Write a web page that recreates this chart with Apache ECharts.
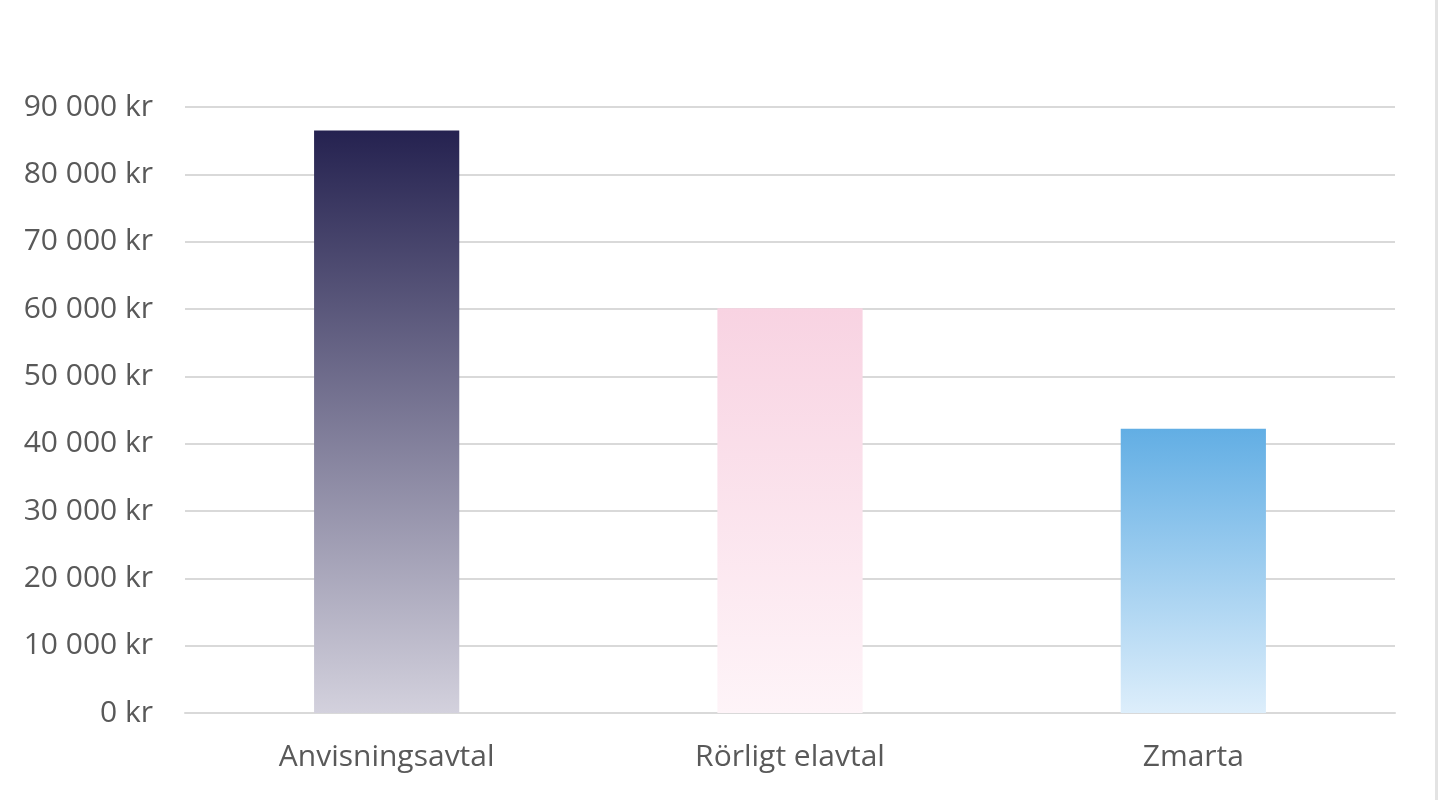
<!DOCTYPE html>
<html>
<head>
<meta charset="utf-8">
<script src="https://cdn.jsdelivr.net/npm/echarts@6/dist/echarts.min.js"></script>
<style>
    html, body { margin: 0; padding: 0; background: #fff; }
    #chart { width: 1439px; height: 800px; }
</style>
</head>
<body>
<div id="chart"></div>
<script>
var categories = ['Anvisningsavtal', 'Rörligt elavtal', 'Zmarta'];
var values = [86500, 60100, 42200];
var topColors = ['#252250', '#f8d3e2', '#62aee4'];
var bottomColors = ['#d3d1dd', '#fef4f8', '#ddeefb'];

var chart = echarts.init(document.getElementById('chart'));

var barData = values.map(function (v, i) {
    return {
        value: v,
        itemStyle: {
            color: new echarts.graphic.LinearGradient(0, 0, 0, 1, [
                { offset: 0, color: topColors[i] },
                { offset: 1, color: bottomColors[i] }
            ])
        }
    };
});

var option = {
    animation: false,
    backgroundColor: '#fff',
    grid: { left: 185, right: 44, top: 107, bottom: 87 },
    xAxis: {
        type: 'category',
        data: categories,
        axisLine: { lineStyle: { color: '#d9d9d9', width: 2 } },
        axisTick: { show: false },
        axisLabel: {
            color: '#595959',
            fontFamily: 'Open Sans',
            fontSize: 30,
            margin: 29
        }
    },
    yAxis: {
        type: 'value',
        min: 0,
        max: 90000,
        interval: 10000,
        axisLine: { show: false },
        axisTick: { show: false },
        splitLine: { lineStyle: { color: '#d9d9d9', width: 2 } },
        axisLabel: {
            color: '#595959',
            fontFamily: 'Open Sans',
            fontSize: 30,
            margin: 32,
            formatter: function (v) {
                if (v === 0) return '0 kr';
                return String(v).replace(/\B(?=(\d{3})+(?!\d))/g, ' ') + ' kr';
            }
        }
    },
    graphic: [{
        type: 'rect',
        shape: { x: 1435, y: 0, width: 3, height: 800 },
        style: { fill: '#e3e3e3' }
    }],
    series: [{
        type: 'bar',
        data: barData,
        barWidth: '36%'
    }]
};

chart.setOption(option);
</script>
</body>
</html>
